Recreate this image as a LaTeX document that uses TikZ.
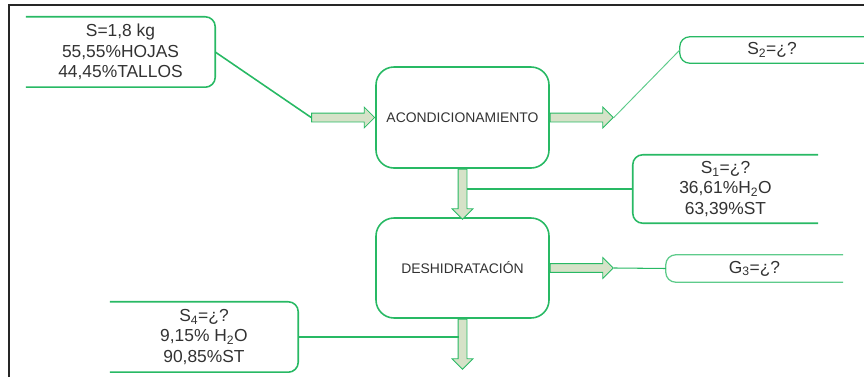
\documentclass[tikz,border=0pt]{standalone}
\usepackage{fontspec}
\setmainfont{Liberation Sans}
\usetikzlibrary{shapes.arrows}

\definecolor{flowgreen}{RGB}{40,185,100}
\definecolor{arrowfill}{RGB}{214,226,200}
\definecolor{textgrey}{RGB}{50,50,50}

\begin{document}
\begin{tikzpicture}[
    every node/.style={text=textgrey},
    process/.style={draw=flowgreen, line width=1.5pt, rounded corners=0.6cm,
      minimum width=5.767cm, align=center, font=\fontsize{13.2}{15}\selectfont},
    stream/.style={align=center, inner sep=0pt, font=\fontsize{16.5}{19.2}\selectfont},
    wire/.style={draw=flowgreen, line width=1.5pt},
    thinwire/.style={draw=flowgreen!75, line width=0.9pt},
    barrow/.style={single arrow, draw=flowgreen, fill=arrowfill, line width=0.8pt,
      inner sep=0.133cm, single arrow head extend=0.2cm, single arrow tip angle=90}
  ]
    \useasboundingbox (0,0) rectangle (28.8,-12.567);
    \draw[line width=2pt, black!85] (0.3,-12.567) -- (0.3,-0.167) -- (28.8,-0.167);

    \node[process, minimum height=3.367cm] (acond) at (15.417,-3.917) {ACONDICIONAMIENTO};
    \node[process, minimum height=3.333cm] (deshid) at (15.417,-8.933) {DESHIDRATACIÓN};

    \node[stream, minimum width=6.3cm, minimum height=2.333cm] (feed) at (4.017,-1.733)
      {S=1,8 kg\\55,55\%HOJAS\\44,45\%TALLOS};
    \node[stream, minimum width=6.133cm, minimum height=0.867cm] (s2) at (25.733,-1.667)
      {S\textsubscript{2}=¿?};
    \node[stream, minimum width=6.167cm, minimum height=2.267cm] (s1) at (24.183,-6.3)
      {S\textsubscript{1}=¿?\\36,61\%H\textsubscript{2}O\\63,39\%ST};
    \node[stream, minimum width=5.9cm, minimum height=0.9cm] (g3) at (25.15,-8.95)
      {G\textsubscript{3}=¿?};
    \node[stream, minimum width=6.267cm, minimum height=2.333cm] (s4) at (6.8,-11.233)
      {S\textsubscript{4}=¿?\\9,15\% H\textsubscript{2}O\\90,85\%ST};

    % open stream boxes
    \draw[wire, rounded corners=0.33cm] (feed.north west) -- (feed.north east) -- (feed.south east) -- (feed.south west);
    \draw[wire, rounded corners=0.33cm] (s4.north west) -- (s4.north east) -- (s4.south east) -- (s4.south west);
    \draw[wire, rounded corners=0.33cm] (s1.north east) -- (s1.north west) -- (s1.south west) -- (s1.south east);
    \draw[wire, line width=1.2pt, rounded corners=0.33cm] (s2.north east) -- (s2.north west) -- (s2.south west) -- (s2.south east);
    \draw[thinwire, line width=1.2pt, rounded corners=0.33cm] (g3.north east) -- (g3.north west) -- (g3.south west) -- (g3.south east);

    % block arrows
    \node[barrow, minimum height=2.1cm, anchor=tip] (a0) at (acond.west) {};
    \node[barrow, minimum height=2.1cm, anchor=tail] (a1) at (acond.east) {};
    \node[barrow, minimum height=1.667cm, shape border rotate=270, anchor=tail] (a2) at (acond.south) {};
    \node[barrow, minimum height=1.667cm, shape border rotate=270, anchor=tail] (a3) at (deshid.south) {};
    \node[barrow, minimum height=2.1cm, anchor=tail] (a4) at (deshid.east) {};
    \coordinate (j1) at ([xshift=0.133cm]a2.tail);
    \coordinate (j3) at ([xshift=-0.133cm]a3.tail);

    \draw[wire] (feed.east) -- (a0.tail);
    \draw[thinwire] (a1.tip) -- (s2.west);
    \draw[wire] (j1 |- s1.west) -- (s1.west);
    \draw[wire, line width=1pt] (a4.tip) -- (g3.west);
    \draw[wire] (s4.east) -- (j3 |- s4.east);
\end{tikzpicture}
\end{document}
